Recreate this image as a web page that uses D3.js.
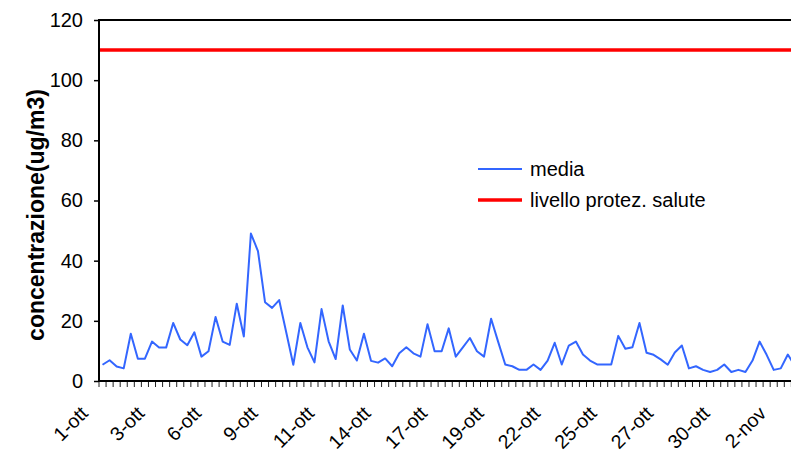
<!DOCTYPE html>
<html>
<head>
<meta charset="utf-8">
<script src="https://cdn.jsdelivr.net/npm/d3@7"></script>
<style>
  body { margin: 0; background: #fff; }
  svg { display: block; font-family: "Liberation Sans", Arial, sans-serif; }
</style>
</head>
<body>
<div class="chart"></div>
<script>
'use strict';

// medie su 8 ore, dal 1-ott
var media = [
  5.4, 6.9, 4.8, 4.2, 15.7, 7.4, 7.4, 13.1, 11.1, 11.1, 19.3, 13.8, 11.9, 16.2, 8.1, 9.9, 21.3, 13.1, 12.0,
  25.7, 14.8, 49.0, 43.2, 26.2, 24.3, 26.9, 16.2, 5.4, 19.3, 11.2, 6.2, 23.9, 13.2, 7.3, 25.1, 10.5, 6.8, 15.7,
  6.7, 6.1, 7.5, 4.9, 9.2, 11.2, 9.2, 8.1, 18.9, 9.9, 9.9, 17.5, 8.1, 11.2, 14.3, 9.9, 8.1, 20.7,
  13.0, 5.5, 4.9, 3.7, 3.7, 5.5, 3.7, 6.8, 12.7, 5.5, 11.8, 13.1, 8.8, 6.8, 5.5, 5.5, 5.5,
  15.0, 10.7, 11.2, 19.3, 9.4, 8.7,
  7.2, 5.4, 9.5, 11.8, 4.2, 4.9, 3.7, 3.0, 3.7, 5.5, 3.0, 3.7, 3.0, 6.8, 13.1, 8.7, 3.7, 4.2, 8.8, 5.0
];
var soglia = 110; // livello protez. salute
var xLabels = ['1-ott', '3-ott', '6-ott', '9-ott', '11-ott', '14-ott', '17-ott', '19-ott',
               '22-ott', '25-ott', '27-ott', '30-ott', '2-nov'];
var labelStep = 8;
var yTicks = [0, 20, 40, 60, 80, 100, 120];
var legendItems = ['media', 'livello protez. salute'];

var width = 791,
    height = 453,
    margin = { top: 20, left: 99, bottom: 72 },
    step = 7.065,
    plotBottom = height - margin.bottom,
    fontSize = 20;

var svg = d3.select('.chart').append('svg').attr('width', width).attr('height', height);

var x = d3.scaleBand().domain(d3.range(media.length))
  .range([margin.left, margin.left + media.length * step]).padding(0);
var y = d3.scaleLinear().domain([0, 120]).range([plotBottom, margin.top]);

function cx(i) { return x(i) + x.bandwidth() / 2; }

// y axis ticks + labels
var yAxis = svg.append('g').attr('transform', 'translate(' + margin.left + ',0)')
  .call(d3.axisLeft(y).tickValues(yTicks).tickSize(5).tickPadding(11));
yAxis.select('.domain').remove();
yAxis.selectAll('line').attr('stroke', '#000').attr('stroke-width', 1.5);
yAxis.selectAll('text').attr('font-size', fontSize).attr('fill', '#000')
  .attr('font-family', '"Liberation Sans", Arial, sans-serif');

// x ticks at category boundaries
var bounds = d3.range(media.length + 1);
svg.append('g').selectAll('line').data(bounds).enter().append('line')
  .attr('x1', function (d) { return margin.left + d * step; })
  .attr('x2', function (d) { return margin.left + d * step; })
  .attr('y1', plotBottom).attr('y2', plotBottom + 6)
  .attr('stroke', '#222').attr('stroke-width', 1);

// x labels
svg.append('g').selectAll('text').data(xLabels).enter().append('text')
  .attr('transform', function (d, i) {
    return 'translate(' + (cx(i * labelStep) - 23) + ',' + (plotBottom + 24) + ') rotate(-45)';
  })
  .attr('text-anchor', 'end')
  .attr('dy', '0.7em')
  .attr('font-size', 19.5)
  .text(function (d) { return d; });

// frame lines
svg.append('line').attr('x1', margin.left).attr('x2', width).attr('y1', margin.top).attr('y2', margin.top)
  .attr('stroke', '#000').attr('stroke-width', 2);
svg.append('line').attr('x1', margin.left).attr('x2', margin.left).attr('y1', margin.top - 1).attr('y2', plotBottom + 1)
  .attr('stroke', '#000').attr('stroke-width', 2);
svg.append('line').attr('x1', margin.left - 1).attr('x2', width).attr('y1', plotBottom).attr('y2', plotBottom)
  .attr('stroke', '#000').attr('stroke-width', 2);

// threshold line
svg.append('line')
  .attr('x1', margin.left + 1).attr('x2', width)
  .attr('y1', y(soglia)).attr('y2', y(soglia))
  .attr('stroke', '#ff0000').attr('stroke-width', 3.5);

// media line
var line = d3.line().x(function (d, i) { return cx(i); }).y(function (d) { return y(d); });
svg.append('path').datum(media)
  .attr('d', line)
  .attr('fill', 'none')
  .attr('stroke', '#3366ff')
  .attr('stroke-width', 2)
  .attr('stroke-linejoin', 'round');

// y title
svg.append('text')
  .attr('transform', 'translate(44,' + 215 + ') rotate(-90)')
  .attr('text-anchor', 'middle')
  .attr('font-size', 23)
  .attr('font-weight', 'bold')
  .text('concentrazione(ug/m3)');

// legend
var legend = svg.append('g').attr('transform', 'translate(478,169)');
var leg = legend.selectAll('g').data(legendItems).enter().append('g')
  .attr('transform', function (d, i) { return 'translate(0,' + i * 31 + ')'; });
leg.append('line').attr('x1', 0).attr('x2', 44).attr('y1', 0).attr('y2', 0)
  .attr('stroke', function (d, i) { return i === 0 ? '#3366ff' : '#ff0000'; })
  .attr('stroke-width', function (d, i) { return i === 0 ? 2 : 3.5; });
leg.append('text').attr('x', 52).attr('dy', '0.35em').attr('font-size', fontSize)
  .text(function (d) { return d; });
</script>
</body>
</html>
